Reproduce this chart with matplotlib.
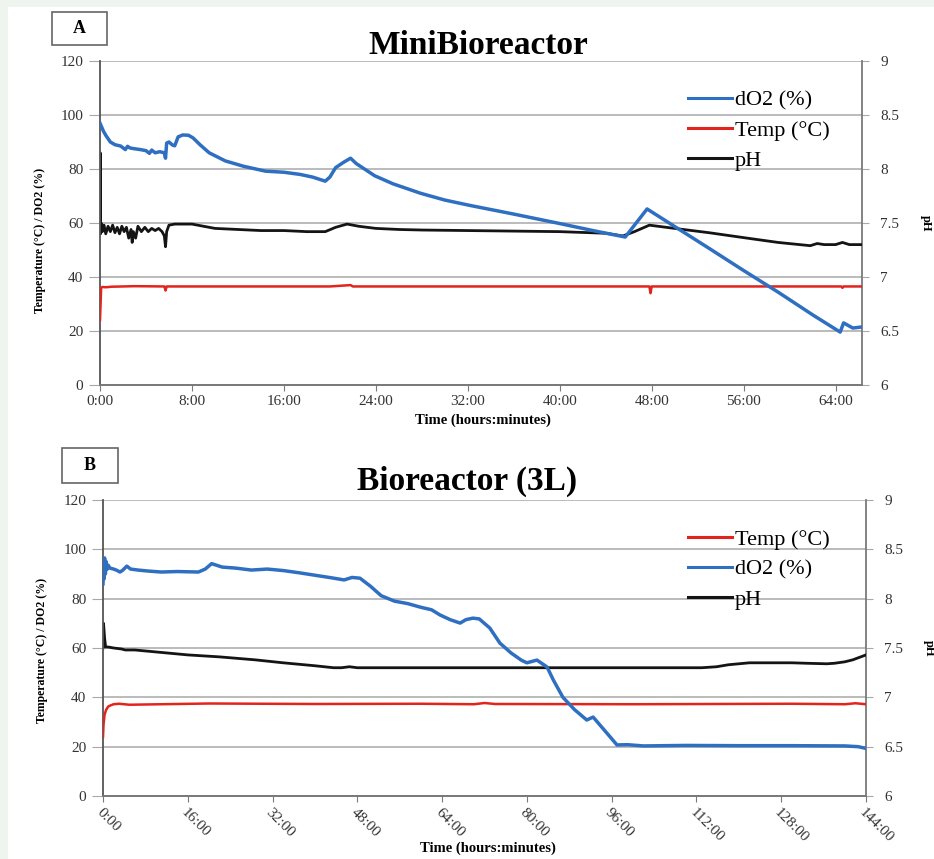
import matplotlib
matplotlib.use("Agg")
import matplotlib.pyplot as plt
from matplotlib.lines import Line2D
from matplotlib.patches import Rectangle

plt.rcParams['font.family'] = ['Liberation Serif', 'DejaVu Serif']

# ---- Painel A: MiniBioreactor (tempo em horas) ----
a_do2_t = [0, 0.1, 0.3, 0.5, 0.9, 1.3, 1.8, 2.2, 2.4, 2.6, 3.0, 3.5, 4.0, 4.3, 4.5,
           4.8, 5.2, 5.6, 5.7, 5.8, 6.0, 6.3, 6.5, 6.8, 7.2, 7.7, 8.1, 8.7, 9.5,
           10.9, 12.5, 14.4, 16.0, 17.4, 18.5, 19.6, 20.0, 20.5, 21.2, 21.8,
           22.3, 23.9, 25.5, 27.9, 30.0, 32.2, 36.0, 40.0, 43.0, 45.7, 47.6,
           50.0, 53.0, 56.0, 59.0, 62.0, 64.4, 64.7, 65.5, 66.3]
a_do2 = [97, 96, 94, 92.5, 90, 89, 88.5, 87.2, 88.4, 87.8, 87.5, 87.2, 86.8, 85.8,
         87.0, 86.0, 86.4, 86.0, 84.0, 89.6, 90.0, 88.9, 88.6, 91.9, 92.6, 92.5,
         91.5, 89.0, 86.0, 83.0, 81.0, 79.2, 78.8, 78.0, 77.0, 75.5, 77.0, 80.5,
         82.5, 84.0, 82.0, 77.5, 74.5, 71.0, 68.5, 66.5, 63.3, 59.8, 57.1, 54.8,
         65.2, 58.7, 50.6, 42.4, 34.4, 26.0, 19.6, 23.0, 21.1, 21.5]

a_temp_t = [0, 0.05, 0.1, 0.2, 0.5, 1, 2, 3, 5.6, 5.7, 5.8, 8, 12, 20, 21.8, 22,
            30, 40, 47.8, 47.9, 48.0, 55, 64.5, 64.6, 64.7, 66.3]
a_temp = [24, 30, 36, 36.3, 36.2, 36.4, 36.5, 36.6, 36.5, 35.0, 36.5, 36.5, 36.5,
          36.5, 37.0, 36.5, 36.5, 36.5, 36.5, 34.0, 36.5, 36.5, 36.5, 36.0, 36.5, 36.5]

a_ph_t = [0, 0.02, 0.05, 0.1, 0.2, 0.35, 0.5, 0.7, 0.9, 1.1, 1.3, 1.5, 1.7, 1.9,
          2.1, 2.3, 2.5, 2.7, 2.8, 2.9, 3.1, 3.3, 3.6, 3.9, 4.2, 4.5, 4.8, 5.1,
          5.4, 5.6, 5.7, 5.8, 6.0, 6.5, 7.0, 8.0, 9.0, 10.0, 12.0, 14.0, 16.0,
          18.0, 19.6, 20.5, 21.5, 22.5, 24.0, 26.0, 28.0, 32.0, 36.0, 40.0, 44.0,
          45.5, 46.5, 47.8, 50.0, 53.0, 56.3, 59.0, 61.8, 62.4, 63.0, 64.0, 64.6,
          65.2, 66.3]
a_ph = [7.43, 8.15, 7.40, 7.50, 7.42, 7.48, 7.40, 7.47, 7.42, 7.48, 7.41, 7.46,
        7.40, 7.47, 7.42, 7.46, 7.36, 7.44, 7.32, 7.42, 7.36, 7.47, 7.42, 7.46,
        7.42, 7.45, 7.43, 7.45, 7.42, 7.38, 7.28, 7.42, 7.48, 7.49, 7.49, 7.49,
        7.47, 7.45, 7.44, 7.43, 7.43, 7.42, 7.42, 7.46, 7.49, 7.47, 7.45, 7.44,
        7.435, 7.43, 7.425, 7.42, 7.405, 7.38, 7.42, 7.48, 7.45, 7.41, 7.36,
        7.32, 7.29, 7.31, 7.30, 7.30, 7.32, 7.30, 7.30]

# ---- Painel B: Bioreactor (3L) ----
b_do2_t = [0, 0.1, 0.2, 0.3, 0.45, 0.6, 0.8, 1.0, 1.3, 2.0, 2.6, 3.2, 3.7, 4.5,
           5.2, 6.6, 8.5, 11, 14, 18, 19.3, 20.5, 22.5, 25, 28, 31, 34, 37, 40,
           43, 45.5, 47, 48.5, 50.5, 52.5, 55, 57.5, 60, 62, 63.6, 65.5, 67.4,
           68.5, 69.8, 71, 73, 74.9, 77, 79, 80, 81.9, 83.8, 85, 86.8, 89, 91.3,
           92.5, 94.5, 97, 99, 102, 110, 120, 130, 140, 142.5, 144]
b_do2 = [86, 95, 88, 96.5, 90, 95, 92, 93.5, 92.4, 92, 91.5, 90.8, 91.5, 93.2, 92,
         91.6, 91.2, 90.8, 91, 90.8, 92, 94.2, 92.8, 92.4, 91.6, 92, 91.4, 90.5,
         89.5, 88.5, 87.6, 88.6, 88.3, 85, 81.2, 79, 78, 76.5, 75.5, 73.4, 71.5,
         70.1, 71.5, 72.1, 71.8, 68.1, 62, 58, 55, 54, 55.1, 52.3, 47, 40, 35,
         30.8, 32, 27, 20.7, 20.8, 20.3, 20.5, 20.4, 20.4, 20.3, 20, 19.3]

b_temp_t = [0, 0.1, 0.3, 0.6, 1.0, 1.5, 2, 3, 5, 20, 40, 60, 70, 72, 74, 100,
            130, 140, 142, 144]
b_temp = [24, 29, 33, 35, 36.3, 36.8, 37.2, 37.4, 37.0, 37.5, 37.3, 37.4, 37.2,
          37.7, 37.3, 37.2, 37.4, 37.2, 37.6, 37.2]

b_ph_t = [0, 0.1, 0.3, 0.5, 1, 2, 3.5, 4.2, 6, 10, 16, 22, 28.7, 34, 40, 43.5, 45,
          46.5, 48, 60, 80, 100, 113, 115.8, 118, 122, 126, 130, 133, 136.6, 138,
          140, 141.5, 144]
b_ph = [7.5, 7.75, 7.6, 7.51, 7.51, 7.5, 7.49, 7.48, 7.48, 7.46, 7.43, 7.41, 7.38,
        7.35, 7.32, 7.30, 7.30, 7.31, 7.30, 7.30, 7.30, 7.30, 7.30, 7.31, 7.33,
        7.35, 7.35, 7.35, 7.345, 7.34, 7.345, 7.36, 7.38, 7.43]

left_ticks = [0, 20, 40, 60, 80, 100, 120]
ph_ticks = [6, 6.5, 7, 7.5, 8, 8.5, 9]
ph_labels = ['6', '6.5', '7', '7.5', '8', '8.5', '9']

BLUE = '#2f6fc2'
RED = '#e3241d'
BLACK = '#141414'
GRAY = '#7a7a7a'
W, H = 934, 859


def fx(px):
    return px / W


def fy(py):
    return 1 - py / H


def panel(fig, rect, xmax, xstep, rot, series, legend_order, legend_top):
    """Desenha um painel com eixo esquerdo (Temp/dO2) e eixo direito (pH)."""
    ax = fig.add_axes(rect)
    ax2 = ax.twinx()
    ax.set_zorder(ax2.get_zorder() + 1)
    ax.patch.set_visible(False)

    (do2_t, do2), (temp_t, temp), (ph_t, ph) = series
    ax2.plot(ph_t, ph, color=BLACK, lw=2.0, zorder=3)
    ax.plot(temp_t, temp, color=RED, lw=1.8, zorder=3)
    ax.plot(do2_t, do2, color=BLUE, lw=2.5, zorder=4)

    ax.set_xlim(0, xmax)
    ax.set_ylim(0, 120)
    ax2.set_ylim(6, 9)
    ax.set_yticks(left_ticks)
    ax2.set_yticks(ph_ticks)
    ax2.set_yticklabels(ph_labels)
    xt = list(range(0, int(xmax) + 1, xstep))
    ax.set_xticks(xt)
    if rot:
        ax.set_xticklabels([f'{h}:00' for h in xt], rotation=-45, ha='left',
                           va='top', rotation_mode='anchor')
    else:
        ax.set_xticklabels([f'{h}:00' for h in xt])

    ax2.grid(axis='y', color='#a8a8a8', lw=1.1)
    ax2.set_axisbelow(True)
    for a in (ax, ax2):
        a.spines['top'].set_visible(False)
        for s in ('left', 'right', 'bottom'):
            a.spines[s].set_color(GRAY)
            a.spines[s].set_linewidth(1.3)
    ax.spines['left'].set_color('#555555')
    ax.spines['right'].set_visible(False)
    ax2.spines['left'].set_visible(False)
    ax.tick_params(axis='y', direction='out', length=8, color='#a8a8a8',
                   labelsize=11, labelcolor='#333333', pad=4)
    ax.tick_params(axis='x', direction='out', length=4, color=GRAY,
                   labelsize=11, labelcolor='#333333', pad=3)
    ax2.tick_params(axis='y', direction='out', length=5, color='#a8a8a8',
                    labelsize=11, labelcolor='#333333', pad=8)

    handles = {
        'dO2 (%)': Line2D([], [], color=BLUE, lw=2.2),
        'Temp (°C)': Line2D([], [], color=RED, lw=2.2),
        'pH': Line2D([], [], color=BLACK, lw=2.2),
    }
    ax.legend([handles[k] for k in legend_order], legend_order,
              loc='upper left', bbox_to_anchor=(fx(688), fy(legend_top)),
              bbox_transform=fig.transFigure, frameon=False, fontsize=16,
              handlelength=2.0, handletextpad=0.1, labelspacing=0.44,
              borderpad=0, borderaxespad=0)
    return ax, ax2


def label_box(fig, letter, x0, y0, x1, y1):
    fig.add_artist(Rectangle((fx(x0), fy(y1)), fx(x1 - x0), (y1 - y0) / H,
                             transform=fig.transFigure, fc='white',
                             ec='#666666', lw=1.2))
    fig.text(fx((x0 + x1) / 2), fy((y0 + y1) / 2), letter, ha='center',
             va='center', fontsize=13, fontweight='bold')


fig = plt.figure(figsize=(W / 100, H / 100), dpi=100)
fig.patch.set_facecolor('#eef4ee')
fig.add_artist(Rectangle((fx(8), 0), 1, fy(7), transform=fig.transFigure,
                         fc='white', ec='none', zorder=-10))

# Painel A
panel(fig, [fx(100), fy(385), fx(862 - 100), (385 - 61) / H], 66.3, 8, False,
      [(a_do2_t, a_do2), (a_temp_t, a_temp), (a_ph_t, a_ph)],
      ['dO2 (%)', 'Temp (°C)', 'pH'], 90)
fig.text(fx(478), fy(45), 'MiniBioreactor', ha='center', va='center',
         fontsize=24, fontweight='bold')
fig.text(fx(483), fy(420), 'Time (hours:minutes)', ha='center', va='center',
         fontsize=10.5, fontweight='bold')
fig.text(fx(40), fy(240), 'Temperature (°C) / DO2 (%)', ha='center',
         va='center', rotation=90, fontsize=8.5, fontweight='bold')
fig.text(fx(926), fy(223), 'pH', ha='center', va='center', rotation=270,
         fontsize=9, fontweight='bold')
label_box(fig, 'A', 52, 12, 107, 45)

# Painel B
panel(fig, [fx(103), fy(796), fx(866 - 103), (796 - 500) / H], 144, 16, True,
      [(b_do2_t, b_do2), (b_temp_t, b_temp), (b_ph_t, b_ph)],
      ['Temp (°C)', 'dO2 (%)', 'pH'], 529)
fig.text(fx(467), fy(481), 'Bioreactor (3L)', ha='center', va='center',
         fontsize=24, fontweight='bold')
fig.text(fx(488), fy(848), 'Time (hours:minutes)', ha='center', va='center',
         fontsize=10.5, fontweight='bold')
fig.text(fx(42), fy(650), 'Temperature (°C) / DO2 (%)', ha='center',
         va='center', rotation=90, fontsize=8.5, fontweight='bold')
fig.text(fx(929), fy(648), 'pH', ha='center', va='center', rotation=270,
         fontsize=9, fontweight='bold')
label_box(fig, 'B', 62, 448, 118, 483)

fig.savefig('out.png', dpi=100, facecolor=fig.get_facecolor())
